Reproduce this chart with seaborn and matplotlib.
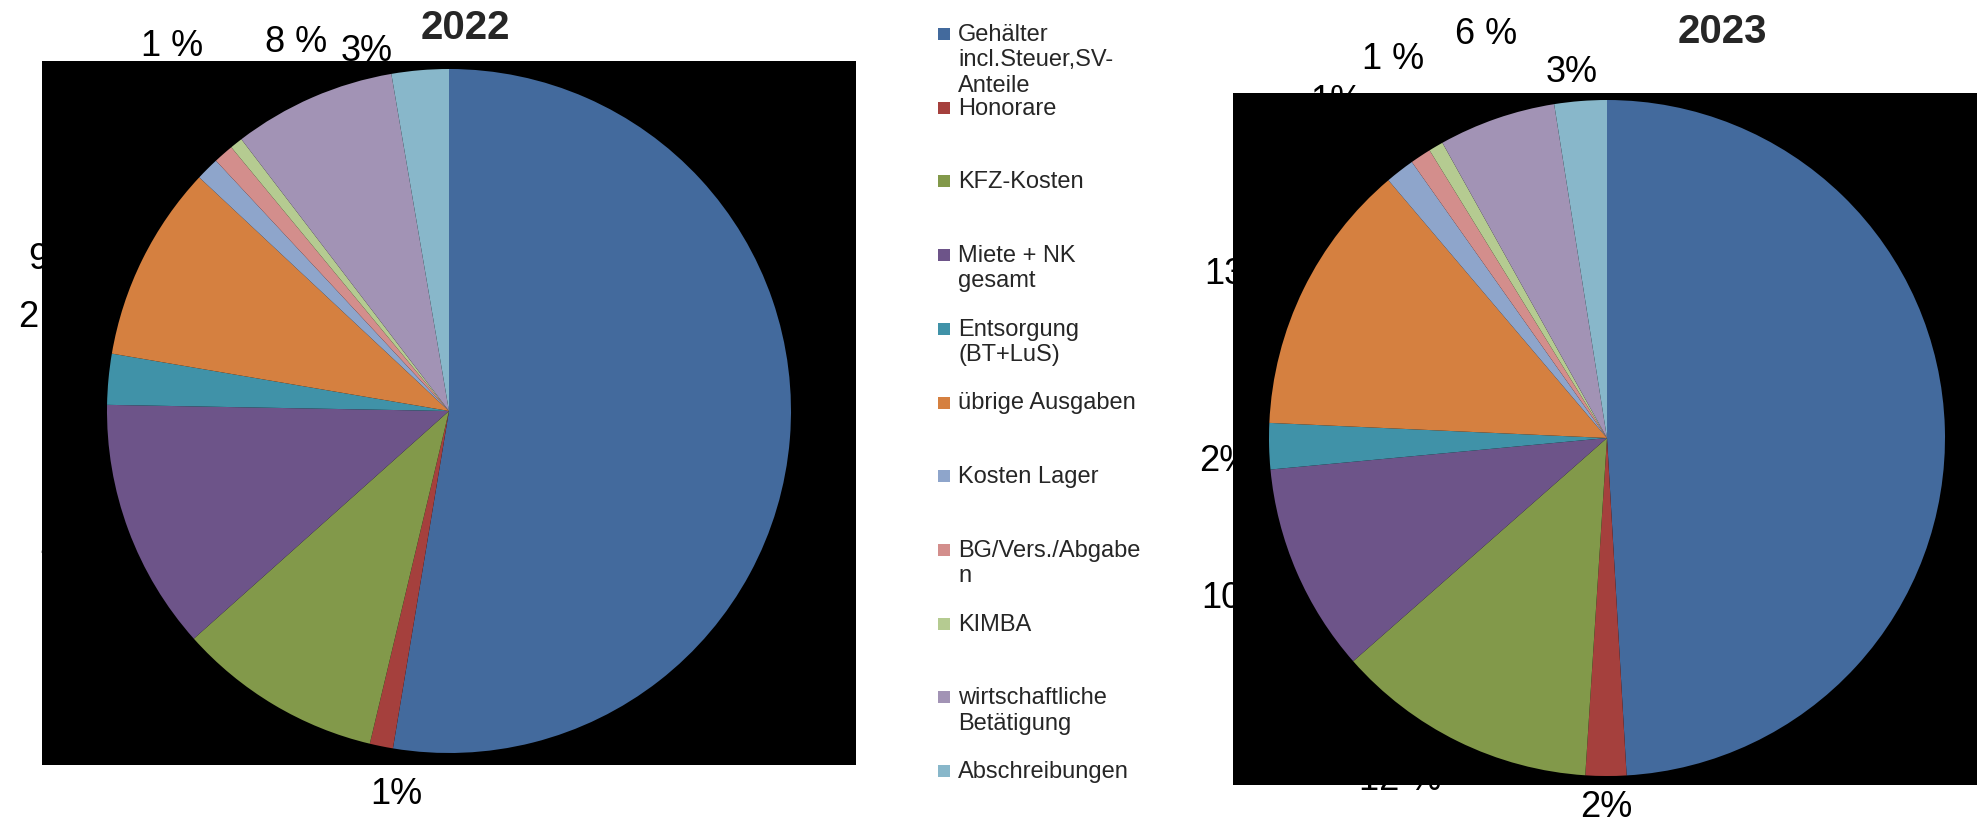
import numpy as np
import matplotlib
matplotlib.use("Agg")
import matplotlib.pyplot as plt
from matplotlib.patches import Rectangle
import seaborn as sns

# categories (legend order = slice order, clockwise from 12 o'clock)
legend_labels = [
    "Gehälter\nincl.Steuer,SV-\nAnteile",
    "Honorare",
    "KFZ-Kosten",
    "Miete + NK\ngesamt",
    "Entsorgung\n(BT+LuS)",
    "übrige Ausgaben",
    "Kosten Lager",
    "BG/Vers./Abgabe\nn",
    "KIMBA",
    "wirtschaftliche\nBetätigung",
    "Abschreibungen",
]
slice_colors = ["#436a9d", "#a5403d", "#82994a", "#6d5489", "#4092a8",
                "#d58040", "#8ea5cb", "#d38e8c", "#b5cb91", "#a293b5",
                "#88b7ca"]

# shares in percent
values_2022 = [52.7, 1.1, 9.7, 11.9, 2.4, 9.3, 1.1, 0.95, 0.6, 7.7, 2.7]
labels_2022 = ["53%", "1%", "10%", "12%", "2 %", "9 %", "1%", "1%", "1 %",
               "8 %", "3%"]
values_2023 = [49.1, 1.95, 12.5, 10.0, 2.2, 13.1, 1.4, 1.0, 0.7, 5.6, 2.5]
labels_2023 = ["49%", "2%", "12 %", "10%", "2%", "13%", "1%", "1%", "1 %",
               "6 %", "3%"]

# label placement: distance (in radii) and clockwise shift from slice middle
dist_2022 = [1.26, 1.13, 1.15, 1.16, 1.2, 1.22, 1.1, 1.22, 1.34, 1.17, 1.08]
shift_2022 = [-35, -3.6, 0, 1, 8, -5, 0, 0, 1.3, 1, -8]
dist_2023 = [1.1, 1.09, 1.18, 1.19, 1.13, 1.19, 1.28, 1.1, 1.29, 1.25, 1.09]
shift_2023 = [-48, 0, 5, 0, -2, -2, -1, 0, 1, 2.5, -1]

W, H = 1985, 820


def draw_pie(ax, values, labels, dists, shifts, palette):
    wedges, _ = ax.pie(values, colors=palette, startangle=90,
                       counterclock=False, wedgeprops=dict(linewidth=0))
    for w, lab, d, s in zip(wedges, labels, dists, shifts):
        mid = np.deg2rad((w.theta1 + w.theta2) / 2 - s)
        ax.text(d * np.cos(mid), d * np.sin(mid), lab, ha="center",
                va="center", fontsize=26, color="black", clip_on=False)
    ax.set_frame_on(True)
    ax.set_facecolor("black")
    for sp in ax.spines.values():
        sp.set_visible(False)
    ax.set_aspect("auto")


def main():
    sns.set_theme(style="white")
    plt.rcParams["font.family"] = ["Liberation Sans", "DejaVu Sans"]
    palette = sns.color_palette(slice_colors)

    fig = plt.figure(figsize=(W / 100, H / 100), dpi=100)

    # 2022: black area 42..856 x 62..766 px, pie centre (449, 412), r 342
    ax1 = fig.add_axes([42 / W, 1 - 766 / H, 814 / W, 704 / H])
    draw_pie(ax1, values_2022, labels_2022, dist_2022, shift_2022, palette)
    ax1.set_xlim(-407 / 342, 407 / 342)
    ax1.set_ylim(-354 / 342, 350 / 342)

    # 2023: black area 1233..1977 x 94..786 px, pie centre (1607, 439), r 338
    ax2 = fig.add_axes([1233 / W, 1 - 786 / H, 744 / W, 692 / H])
    draw_pie(ax2, values_2023, labels_2023, dist_2023, shift_2023, palette)
    ax2.set_xlim(-374 / 338, 370 / 338)
    ax2.set_ylim(-347 / 338, 345 / 338)

    fig.text(465 / W, 1 - 28 / H, "2022", fontsize=29, fontweight="bold",
             ha="center", va="center")
    fig.text(1722 / W, 1 - 32 / H, "2023", fontsize=29, fontweight="bold",
             ha="center", va="center")

    # legend, evenly spaced entries with text hanging from the marker
    for i, lab in enumerate(legend_labels):
        yc = 35 + i * 73.7
        fig.add_artist(Rectangle((938 / W, 1 - (yc + 6) / H), 12 / W, 12 / H,
                                 transform=fig.transFigure,
                                 facecolor=palette[i], edgecolor="none"))
        fig.text(958 / W, 1 - (yc - 11) / H, lab, fontsize=17,
                 va="top", ha="left", linespacing=1.2)

    fig.savefig("out.png", dpi=100)


if __name__ == "__main__":
    main()
